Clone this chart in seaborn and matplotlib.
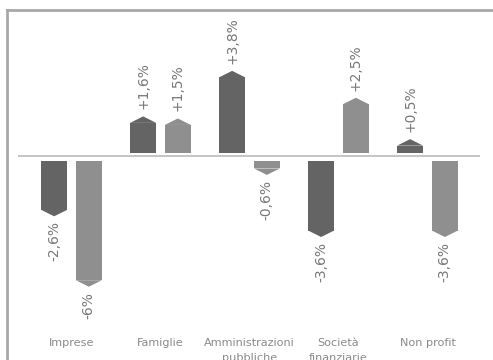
import matplotlib
matplotlib.use("Agg")
import matplotlib.pyplot as plt
from matplotlib.patches import Polygon
import pandas as pd
import seaborn as sns

# Variazioni percentuali per settore (due periodi a confronto)
settori = ["Imprese", "Famiglie", "Amministrazioni\npubbliche", "Società\nfinanziarie", "Non profit"]
periodo_1 = [-2.6, 1.6, 3.8, -3.6, 0.5]
periodo_2 = [-6.0, 1.5, -0.6, 2.5, -3.6]
periodi = ["periodo_1", "periodo_2"]
colori = ["#646464", "#8f8f8f"]

df = pd.DataFrame({
    "settore": settori * 2,
    "periodo": [periodi[0]] * len(settori) + [periodi[1]] * len(settori),
    "valore": periodo_1 + periodo_2,
})

sns.set_theme(style="white")
plt.rcParams["font.family"] = ["DejaVu Sans"]

W, H = 493, 360
fig = plt.figure(figsize=(W / 100, H / 100), dpi=100)
fig.patch.set_facecolor("white")

# frame: left edge at 6.5 px, top edge 10 px below the top, runs past the bottom
ax = fig.add_axes([6.5 / W, 0.0, 1 - 6.5 / W, (H - 10) / H])
ax.set_facecolor("white")

sns.barplot(data=df, x="settore", y="valore", hue="periodo", order=settori,
            hue_order=periodi, palette=colori, width=0.78, gap=0.25,
            errorbar=None, legend=False, saturation=1, ax=ax)

px_per_unit = 20.7
zero_px = 156
ax.set_ylim(-(H - zero_px) / px_per_unit, (zero_px - 10) / px_per_unit)
ax.set_xlim(-(71.5 - 6.5) / 89, (493 - 71.5) / 89)

off_pos = 3 / px_per_unit
off_neg = 5 / px_per_unit
tip = 6.5 / px_per_unit
gap_pos = 7 / px_per_unit
gap_neg = 5 / px_per_unit

def fmt(v):
    s = f"{abs(v):.1f}".replace(".", ",")
    if s.endswith(",0"):
        s = s[:-2]
    return ("+" if v > 0 else "-") + s + "%"

for cont, col in zip(ax.containers, colori):
    for p in cont.patches:
        v = p.get_height()
        x0, w = p.get_x(), p.get_width()
        sgn = 1 if v > 0 else -1
        base = sgn * (off_pos if v > 0 else off_neg)
        p.set_y(base)
        p.set_height(v - base)
        p.set_edgecolor("none")
        ax.add_patch(Polygon([(x0, v), (x0 + w, v), (x0 + w / 2, v + sgn * tip)],
                             closed=True, facecolor=col, edgecolor="none"))
        g = gap_pos if v > 0 else gap_neg
        ax.text(x0 + w / 2, v + sgn * (tip + g), fmt(v), rotation=90,
                ha="center", va="bottom" if v > 0 else "top",
                fontsize=10, color="#777777")

ax.hlines(0, (18 - 71.5) / 89, (480 - 71.5) / 89, color="#b4b4b4", linewidth=1.1)

ax.set_xlabel("")
ax.set_ylabel("")
ax.set_yticks([])
ax.tick_params(axis="x", length=0, pad=-16, labelsize=8.1, labelcolor="#8a8a8a")
for lab in ax.get_xticklabels():
    lab.set_linespacing(1.65)

for side in ["right", "bottom"]:
    ax.spines[side].set_visible(False)
for side in ["top", "left"]:
    ax.spines[side].set_color("#a8a8a8")
    ax.spines[side].set_linewidth(2)

fig.savefig("out.png", dpi=100)
